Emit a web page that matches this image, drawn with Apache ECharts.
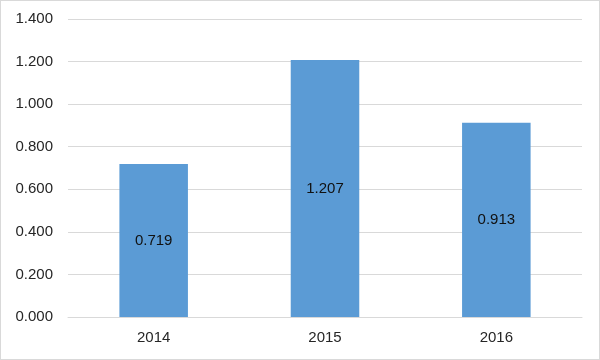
<!DOCTYPE html>
<html>
<head>
<meta charset="utf-8">
<script src="https://cdn.jsdelivr.net/npm/echarts@6/dist/echarts.min.js"></script>
<style>
html,body{margin:0;padding:0;background:#fff;}
#c{width:598px;height:358px;border:1px solid #d9d9d9;}
</style>
</head>
<body>
<div id="c"></div>
<script>
var categories = ['2014', '2015', '2016'];
var values = [0.719, 1.207, 0.913];
var yTicks = {min: 0, max: 1.4, interval: 0.2};

var chart = echarts.init(document.getElementById('c'));
chart.setOption({
  animation: false,
  textStyle: {fontFamily: 'Liberation Sans, Arial, sans-serif'},
  grid: {left: 67, right: 17, top: 18, bottom: 42},
  xAxis: {
    type: 'category',
    data: categories,
    axisLine: {lineStyle: {color: '#d9d9d9'}},
    axisTick: {show: false},
    axisLabel: {color: '#262626', fontSize: 15, margin: 13}
  },
  yAxis: {
    type: 'value',
    min: yTicks.min, max: yTicks.max, interval: yTicks.interval,
    axisLine: {show: false},
    axisTick: {show: false},
    splitLine: {lineStyle: {color: '#d9d9d9'}},
    axisLabel: {color: '#262626', fontSize: 15, margin: 15,
      formatter: function (v) { return v.toFixed(3); }}
  },
  series: [{
    type: 'bar',
    data: values,
    barWidth: '40%',
    itemStyle: {color: '#5b9bd5'},
    label: {show: true, position: 'inside', color: '#111', fontSize: 15,
      formatter: function (p) { return p.value.toFixed(3); }}
  }]
});
</script>
</body>
</html>
